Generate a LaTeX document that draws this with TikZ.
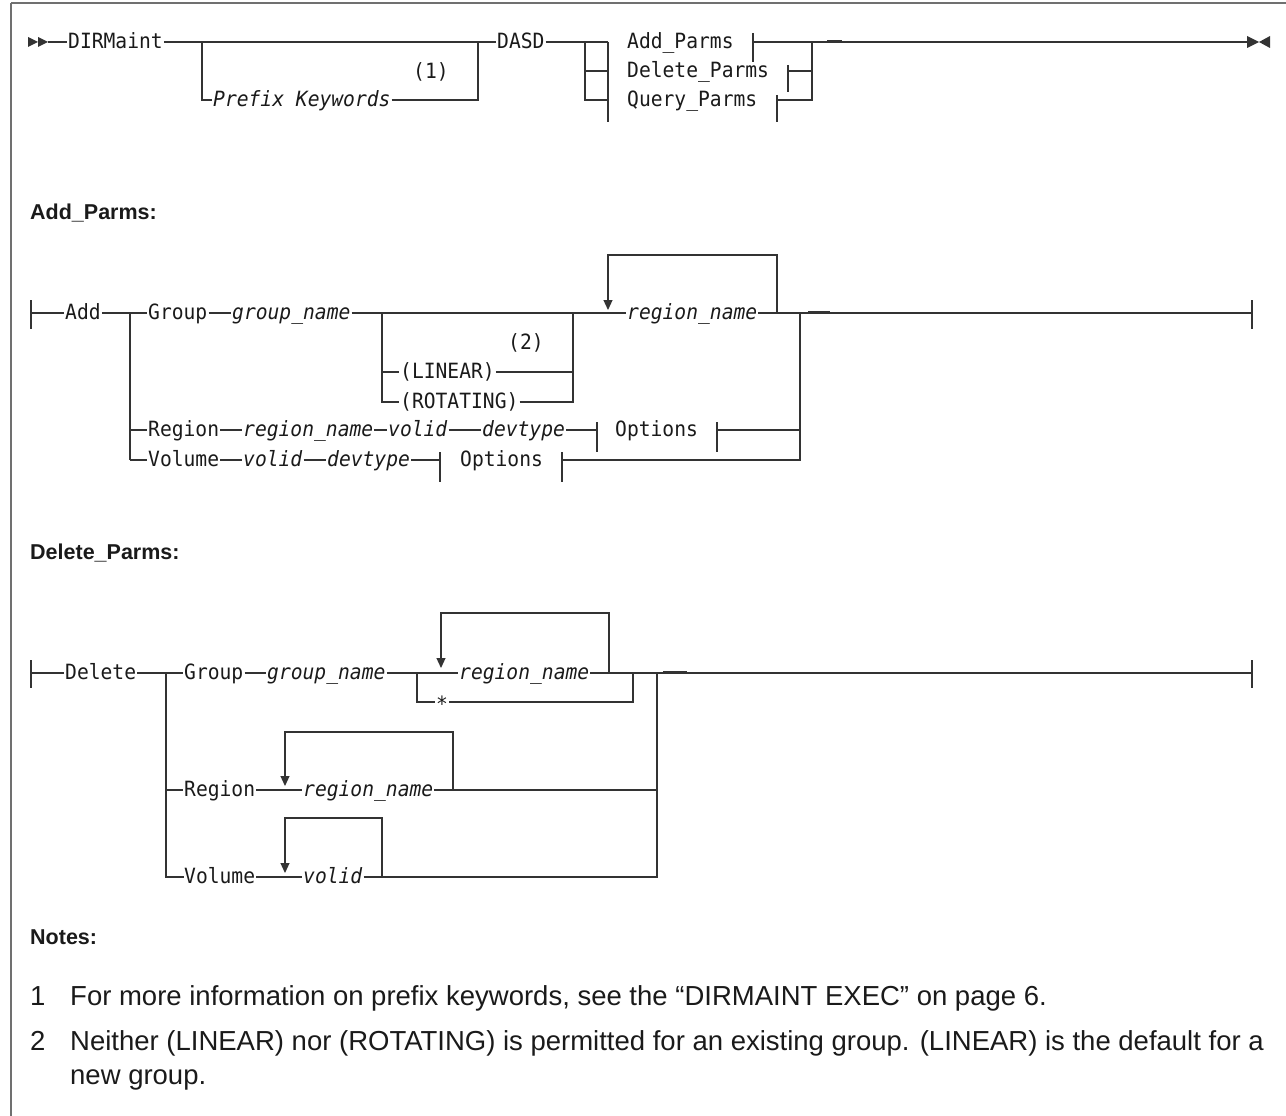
\documentclass[tikz,border=0pt]{standalone}
\usepackage{fontspec}
\setmainfont{Liberation Sans}
\newfontfamily\monof[FakeStretch=0.935]{DejaVu Sans Mono}
\newfontfamily\notef{Liberation Sans}
\usetikzlibrary{arrows.meta,calc}
\definecolor{linec}{HTML}{333333}
\definecolor{txtc}{HTML}{1A1A1A}
\definecolor{framec}{HTML}{707070}
\begin{document}
\begin{tikzpicture}[x=1pt,y=-1pt,
  rr/.style={line width=1.2pt, draw=linec},
  thk/.style={line width=2.4pt, draw=linec},
  kw/.style={inner xsep=1pt, inner ysep=0pt, anchor=west, text height=13pt, text depth=0pt,
     font=\monof\fontsize{21}{25}\selectfont, text=txtc},
  var/.style={kw, font=\monof\itshape\fontsize{21}{25}\selectfont},
  starnode/.style={kw, text height=18pt},
  head/.style={inner sep=0pt, anchor=west, text height=15.5pt, text depth=0pt,
     font=\bfseries\fontsize{21.5}{25}\selectfont, text=txtc},
  note/.style={inner sep=0pt, anchor=base west, font=\notef\fontsize{27.5}{33}\selectfont, text=txtc},
  loopar/.style={rr, -{Triangle[width=9pt,length=10pt]}},
]
\useasboundingbox (0,0) rectangle (1286,1116);
% frame
\draw[framec, line width=1.6pt] (11,3) -- (1286,3);
\draw[framec, line width=1.6pt] (11,3) -- (11,1116);

% ================= main diagram =================
\fill[linec] (28,37) -- (38,42) -- (28,47) -- cycle;
\fill[linec] (38,37) -- (48,42) -- (38,47) -- cycle;
\coordinate (s0) at (48,42);
\node[kw] (dirmaint) at (67,42) {DIRMaint};
\node[var] (pk) at (212,100) {Prefix Keywords};
\node[kw] (n1) at (412,72) {(1)};
\node[kw] (dasd) at (496,42) {DASD};
\coordinate (ja) at (202,42);
\coordinate (jb) at (478,42);
\coordinate (jc) at (585,42);
\coordinate (lt) at (608,42);
\node[kw] (addp) at (626,42) {Add\_Parms};
\node[kw] (delp) at (626,71) {Delete\_Parms};
\node[kw] (qryp) at (626,100) {Query\_Parms};
\coordinate (jd) at (812,42);
\coordinate (endm) at (1247,42);

\draw[rr] (s0) -- (dirmaint.west);
\draw[rr] (dirmaint.east) -- (dasd.west);
\draw[rr] (ja) |- (pk.west);
\draw[rr] (pk.east) -| (jb);
\draw[rr] (dasd.east) -- (lt);
\draw[rr] (jc) |- (lt |- qryp.west);
\draw[rr] (jc |- delp.west) -- (lt |- delp.west);
\draw[rr] (lt) -- (608,122);
% right reference ticks
\draw[rr] (753,33) -- (753,62);
\draw[rr] (788,65) -- (788,92);
\draw[rr] (777,95) -- (777,122);
\draw[rr] (753,42) -- (jd);
\draw[rr] (788,71) -- (jd |- delp.west);
\draw[rr] (777,100) -| (jd);
\draw[rr] (jd) -- (endm);
\draw[thk] (827,41.5) -- (842,41.5);
\fill[linec] (1247,36) -- (1259,42) -- (1247,48) -- cycle;
\fill[linec] (1270,36) -- (1259,42) -- (1270,48) -- cycle;

% ================= Add_Parms =================
\node[head] (hadd) at (30,212) {Add\_Parms:};
\coordinate (as) at (31,313);
\draw[rr] (31,300) -- (31,329);
\node[kw] (add) at (64,313) {Add};
\draw[rr] (as) -- (add.west);
\draw[thk] (40,313) -- (47,313);
\coordinate (aj) at (130,313);
\node[kw] (agroup) at (147,313) {Group};
\node[var] (agname) at (231,313) {group\_name};
\coordinate (bj) at (382,313);
\node[kw] (lin) at (399,372) {(LINEAR)};
\node[kw] (rot) at (399,402) {(ROTATING)};
\node[kw] (n2) at (507,343) {(2)};
\coordinate (bk) at (573,313);
\node[var] (arn) at (626,313) {region\_name};
\coordinate (lpA) at (777,313);
\coordinate (arA) at (608,310);
\coordinate (ej) at (800,313);
\coordinate (aend) at (1252,313);

\draw[rr] (add.east) -- (aj) -- (agroup.west);
\draw[rr] (aj) |- (130,460);
\draw[rr] (agroup.east) -- (agname.west);
\draw[rr] (agname.east) -- (arn.west);
\draw[rr] (bj) |- (lin.west);
\draw[rr] (bj) |- (rot.west);
\draw[rr] (lin.east) -| (bk);
\draw[rr] (rot.east) -| (bk);
\draw[loopar] (lpA) -- (777,255) -- (608,255) -- (arA);
\draw[rr] (arn.east) -- (ej);
\draw[rr] (ej) -- (aend);
\draw[thk] (808,312.5) -- (830,312.5);
\draw[rr] (1252,300) -- (1252,329);

% Region row
\node[kw] (aregion) at (147,430) {Region};
\node[var] (arn2) at (242,430) {region\_name};
\node[var] (avolid) at (387,430) {volid};
\node[var] (adev) at (481,430) {devtype};
\node[kw] (opt1) at (614,430) {Options};
\draw[rr] (aj |- aregion.west) -- (aregion.west);
\draw[rr] (aregion.east) -- (arn2.west);
\draw[rr] (arn2.east) -- (avolid.west);
\draw[rr] (avolid.east) -- (adev.west);
\draw[rr] (adev.east) -- (597,430);
\draw[rr] (597,422) -- (597,452);
\draw[rr] (717,422) -- (717,452);
\draw[rr] (717,430) -- (ej |- opt1.west);

% Volume row
\node[kw] (avolume) at (147,460) {Volume};
\node[var] (avolid2) at (242,460) {volid};
\node[var] (adev2) at (326,460) {devtype};
\node[kw] (opt2) at (459,460) {Options};
\draw[rr] (130,460) -- (avolume.west);
\draw[rr] (avolume.east) -- (avolid2.west);
\draw[rr] (avolid2.east) -- (adev2.west);
\draw[rr] (adev2.east) -- (440,460);
\draw[rr] (440,452) -- (440,482);
\draw[rr] (562,452) -- (562,482);
\draw[rr] (562,460) -| (ej);

% ================= Delete_Parms =================
\node[head] (hdel) at (30,552) {Delete\_Parms:};
\coordinate (ds) at (31,673);
\draw[rr] (31,660) -- (31,688);
\node[kw] (del) at (64,673) {Delete};
\draw[rr] (ds) -- (del.west);
\draw[thk] (40,673) -- (47,673);
\coordinate (dj) at (166,673);
\node[kw] (dgroup) at (183,673) {Group};
\node[var] (dgname) at (266,673) {group\_name};
\coordinate (dk) at (417,673);
\node[var] (drn) at (458,673) {region\_name};
\node[starnode] (star) at (435,702) {*};
\coordinate (dl) at (633,673);
\coordinate (dm) at (657,673);
\coordinate (dend) at (1252,673);

\draw[rr] (del.east) -- (dj) -- (dgroup.west);
\draw[rr] (dj) |- (184,877);
\draw[rr] (dgroup.east) -- (dgname.west);
\draw[rr] (dgname.east) -- (drn.west);
\draw[rr] (dk) |- (star.west);
\draw[rr] (star.east) -| (dl);
\draw[loopar] (609,673) -- (609,613) -- (441,613) -- (441,668);
\draw[rr] (drn.east) -- (dm);
\draw[rr] (dm) -- (dend);
\draw[thk] (663,672.5) -- (687,672.5);
\draw[rr] (1252,660) -- (1252,688);

% Region row
\node[kw] (dregion) at (183,790) {Region};
\node[var] (drn2) at (302,790) {region\_name};
\draw[rr] (dj |- dregion.west) -- (dregion.west);
\draw[rr] (dregion.east) -- (drn2.west);
\draw[loopar] (453,790) -- (453,732) -- (285,732) -- (285,786);
\draw[rr] (drn2.east) -- (dm |- drn2.west);

% Volume row
\node[kw] (dvolume) at (183,877) {Volume};
\node[var] (dvolid) at (302,877) {volid};
\draw[rr] (dj |- dvolume.west) -- (dvolume.west);
\draw[rr] (dvolume.east) -- (dvolid.west);
\draw[loopar] (382,877) -- (382,818) -- (285,818) -- (285,873);
\draw[rr] (dvolid.east) -| (dm);

% ================= Notes =================
\node[head] (hnotes) at (30,937) {Notes:};
\node[note] (k1) at (30,1005) {1};
\node[note] (t1) at (70,1005) {For more information on prefix keywords, see the “DIRMAINT EXEC” on page 6.};
\node[note] (k2) at (30,1050) {2};
\node[note] (t2) at (70,1050) {Neither (LINEAR) nor (ROTATING) is permitted for an existing group. (LINEAR) is the default for a};
\node[note] (t3) at (70,1084) {new group.};
\end{tikzpicture}
\end{document}
